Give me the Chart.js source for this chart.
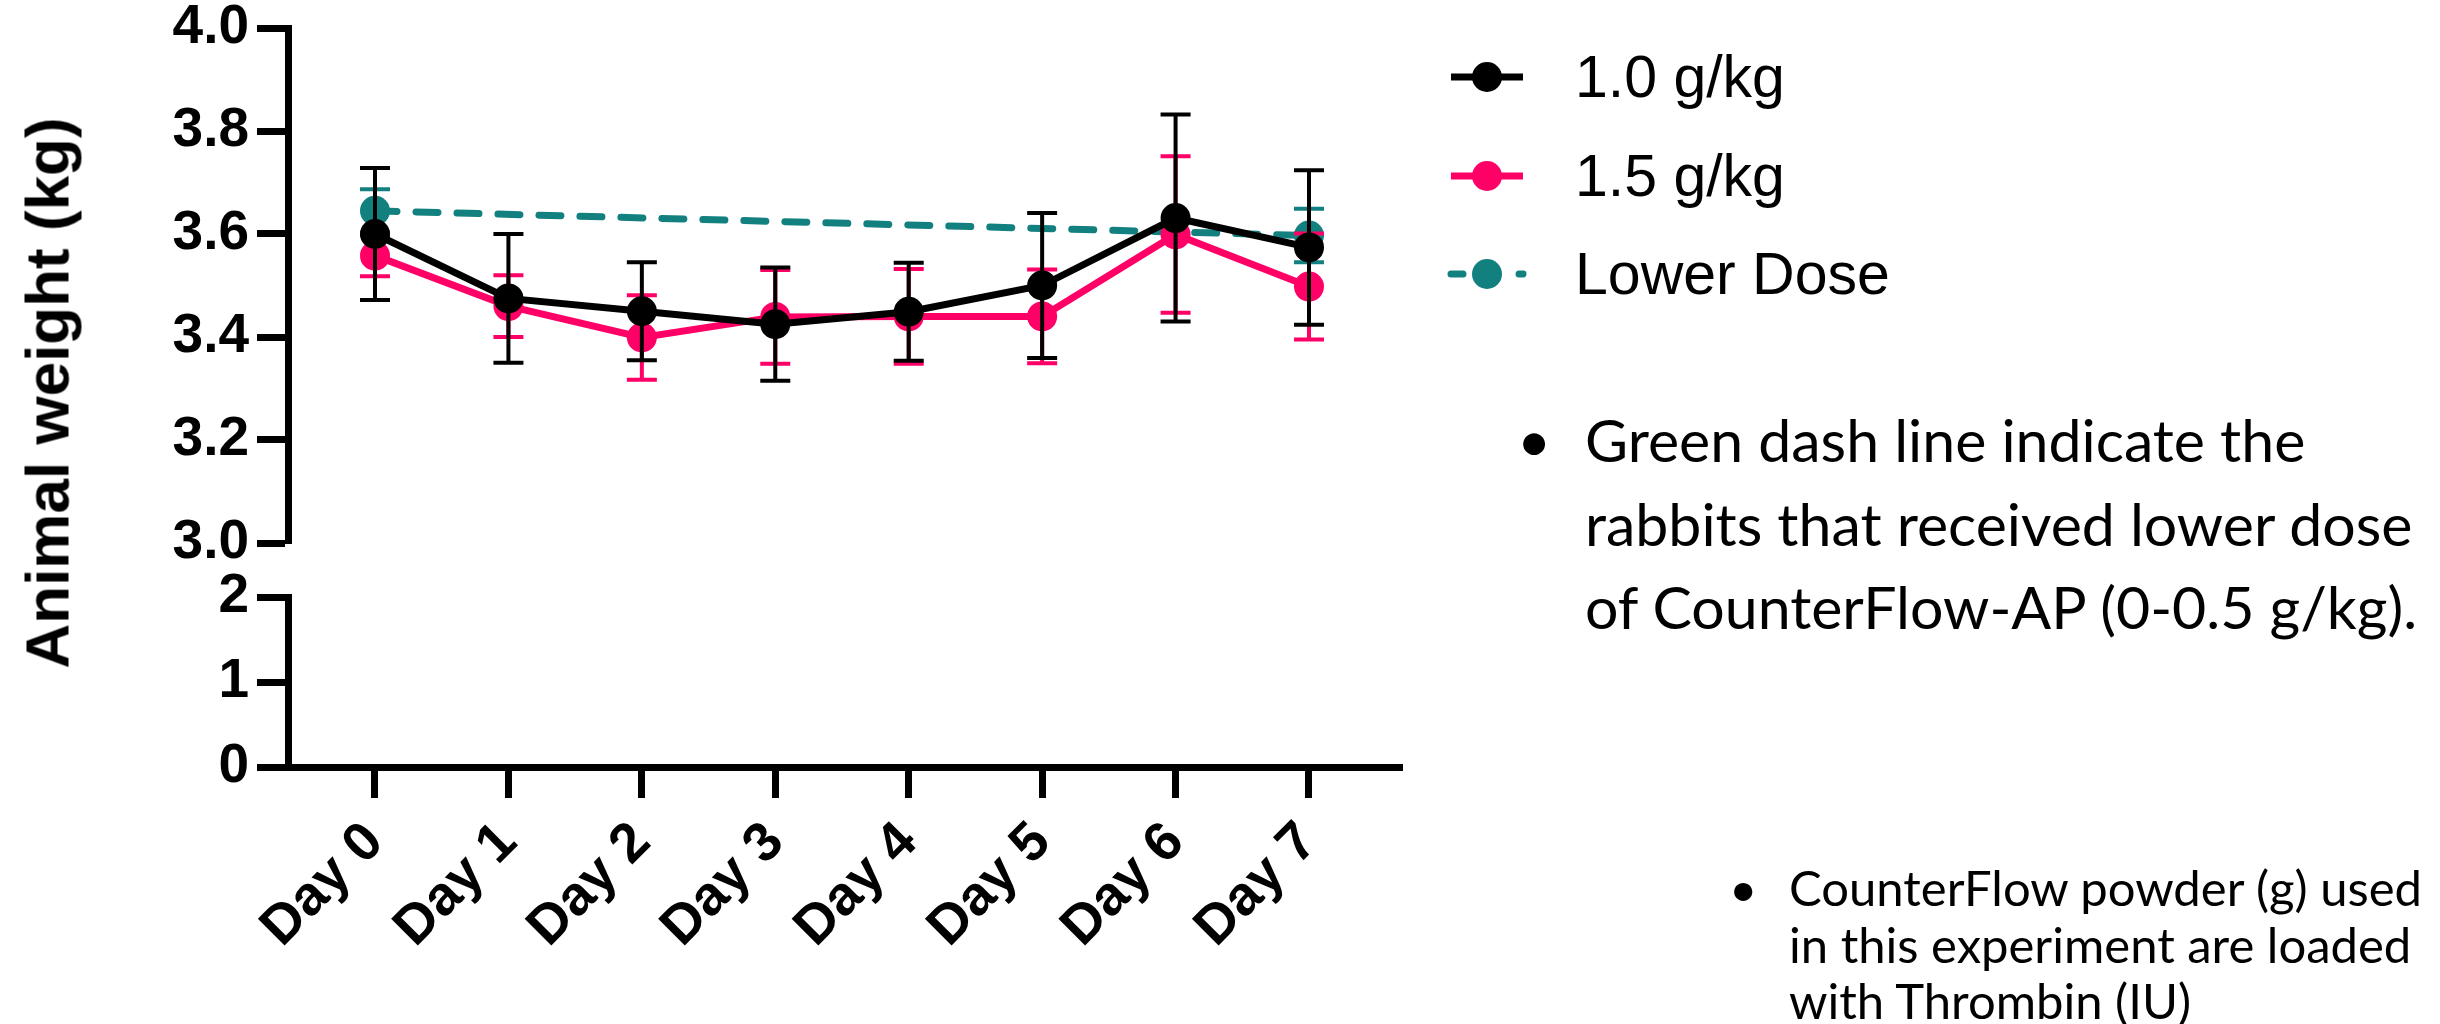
<!DOCTYPE html>
<html>
<head>
<meta charset="utf-8">
<script src="https://cdn.jsdelivr.net/npm/chart.js@4.4.1/dist/chart.umd.min.js"></script>
<style>
  body { margin: 0; background: #fff; }
  #wrap { position: relative; width: 2440px; height: 1024px; overflow: hidden; font-family: "Liberation Sans", Arial, sans-serif; color: #000; }
  #chart { position: absolute; left: 0; top: 0; }
  #ytitle { position: absolute; left: 47px; top: 393px; transform: translate(-50%, -50%) rotate(-90deg); font-weight: bold; font-size: 62px; white-space: nowrap; }
  .leg { position: absolute; left: 1447px; height: 60px; display: flex; align-items: center; font-size: 59px; white-space: nowrap; }
  .leg svg { margin-right: 48px; }
  .note { position: absolute; font-family: Lato, "Open Sans", sans-serif; white-space: nowrap; }
  .note .b { position: absolute; }
</style>
</head>
<body>
<div id="wrap">
  <canvas id="chart" width="1420" height="1024"></canvas>
  <div id="ytitle">Animal weight (kg)</div>
  <div id="legend"></div>
  <div class="note" style="left:1585px; top:398px; font-size:59px; line-height:83.5px;">
    <span class="b" style="left:-68px;">•</span>Green dash line indicate the<br>rabbits that received lower dose<br>of CounterFlow-AP (0-0.5 g/kg).
  </div>
  <div class="note" style="left:1789px; top:859px; font-size:49px; line-height:56.5px;">
    <span class="b" style="left:-60px;">•</span>CounterFlow powder (g) used<br>in this experiment are loaded<br>with Thrombin (IU)
  </div>
</div>
<script>
// categories
const days = ['Day 0', 'Day 1', 'Day 2', 'Day 3', 'Day 4', 'Day 5', 'Day 6', 'Day 7'];
const seriesNames = ['1.0 g/kg', '1.5 g/kg', 'Lower Dose'];

// tick labels of the two parts of the broken y axis
const upperTicks = [3.0, 3.2, 3.4, 3.6, 3.8, 4.0];
const lowerTicks = [0, 1, 2];

// mean weight (kg) and SD per day
const dose10 = [3.60, 3.475, 3.45, 3.425, 3.449, 3.50, 3.631, 3.574];
const dose10Sd = [0.128, 0.125, 0.095, 0.11, 0.095, 0.141, 0.201, 0.15];
const dose15 = [3.558, 3.46, 3.399, 3.439, 3.44, 3.44, 3.599, 3.498];
const dose15Sd = [0.04, 0.06, 0.082, 0.091, 0.092, 0.091, 0.152, 0.103];
const lowDose = [3.645, null, null, null, null, null, null, 3.597];
const lowDoseSd = [0.042, null, null, null, null, null, null, 0.052];

const colors = ['#000000', '#ff0066', '#138080'];

function pts(vals, sds) {
  return vals.map((v, i) => ({ x: i, y: v, sd: sds[i] })).filter(p => p.y !== null);
}

// draw error bars of each dataset just under its own line and points
const errorBars = {
  id: 'errorBars',
  beforeDatasetDraw(chart, args) {
    const ds = chart.data.datasets[args.index];
    const xs = args.meta.xScale, ys = args.meta.yScale;
    const ctx = chart.ctx;
    ctx.save();
    ctx.strokeStyle = ds.borderColor;
    ctx.lineWidth = 4;
    ds.data.forEach(p => {
      if (p.sd == null) return;
      const x = xs.getPixelForValue(p.x);
      const top = ys.getPixelForValue(p.y + p.sd);
      const bot = ys.getPixelForValue(p.y - p.sd);
      ctx.beginPath();
      ctx.moveTo(x, top); ctx.lineTo(x, bot);
      ctx.moveTo(x - 15, top); ctx.lineTo(x + 15, top);
      ctx.moveTo(x - 15, bot); ctx.lineTo(x + 15, bot);
      ctx.stroke();
    });
    ctx.restore();
  }
};

function noPad(s) { s.paddingTop = 0; s.paddingBottom = 0; s.paddingLeft = 0; s.paddingRight = 0; }

const tickFont = { family: 'Liberation Sans', size: 55, weight: 'bold', lineHeight: 1 };
const axisGrid = { drawOnChartArea: false, drawTicks: true, tickLength: 31, tickWidth: 7, color: '#000' };
const axisBorder = { display: true, width: 7, color: '#000' };

const chart = new Chart(document.getElementById('chart'), {
  type: 'line',
  data: {
    datasets: [
      { label: seriesNames[0], data: pts(dose10, dose10Sd), borderColor: colors[0], backgroundColor: colors[0],
        borderWidth: 7, pointRadius: 15, pointHoverRadius: 15, pointBorderWidth: 0, yAxisID: 'y' },
      { label: seriesNames[1], data: pts(dose15, dose15Sd), borderColor: colors[1], backgroundColor: colors[1],
        borderWidth: 7, pointRadius: 15, pointHoverRadius: 15, pointBorderWidth: 0, yAxisID: 'y' },
      { label: seriesNames[2], data: pts(lowDose, lowDoseSd), borderColor: colors[2], backgroundColor: colors[2],
        borderWidth: 7, borderDash: [22, 19], borderCapStyle: 'round',
        pointRadius: 15, pointHoverRadius: 15, pointBorderWidth: 0, yAxisID: 'y' }
    ]
  },
  options: {
    responsive: false,
    animation: false,
    events: [],
    layout: { padding: { top: 28, left: 0, right: 18, bottom: 0 } },
    plugins: { legend: { display: false }, tooltip: { enabled: false } },
    scales: {
      x: {
        type: 'linear', min: -0.652, max: 7.697,
        afterFit(s) { s.height = 257; noPad(s); },
        afterBuildTicks(s) { s.ticks = days.map((d, i) => ({ value: i })); },
        ticks: { autoSkip: false, minRotation: 45, maxRotation: 45,
                 padding: 16, color: '#000', font: tickFont, callback: v => days[v] },
        grid: axisGrid, border: axisBorder
      },
      y: {
        type: 'linear', position: 'left', stack: 'wt', stackWeight: 515, weight: 3,
        min: upperTicks[0], max: upperTicks[upperTicks.length - 1],
        afterFit(s) { s.width = 288; noPad(s); },
        afterBuildTicks(s) { s.ticks = upperTicks.map(v => ({ value: v })); },
        ticks: { autoSkip: false, padding: 8, color: '#000', font: tickFont, callback: v => v.toFixed(1) },
        grid: axisGrid, border: axisBorder
      },
      yGap: {
        type: 'linear', position: 'left', stack: 'wt', stackWeight: 54, weight: 2,
        display: false, min: 0, max: 1,
        afterFit(s) { noPad(s); }
      },
      yLow: {
        type: 'linear', position: 'left', stack: 'wt', stackWeight: 170, weight: 1,
        min: lowerTicks[0], max: lowerTicks[lowerTicks.length - 1],
        afterFit(s) { s.width = 288; noPad(s); },
        afterBuildTicks(s) { s.ticks = lowerTicks.map(v => ({ value: v })); },
        ticks: { autoSkip: false, padding: 8, color: '#000', font: tickFont, callback: v => v.toFixed(0) },
        grid: axisGrid, border: axisBorder
      }
    }
  },
  plugins: [errorBars]
});

// html legend built from the datasets
const legend = document.getElementById('legend');
chart.data.datasets.forEach((ds, i) => {
  const row = document.createElement('div');
  row.className = 'leg';
  row.style.top = (47 + i * 98.5) + 'px';
  const dash = ds.borderDash ? ' stroke-dasharray="12 22" stroke-linecap="round"' : '';
  row.innerHTML = '<svg width="80" height="34"><line x1="4" y1="17" x2="76" y2="17" stroke="' + ds.borderColor +
    '" stroke-width="7"' + dash + '/><circle cx="40" cy="17" r="15" fill="' + ds.backgroundColor + '"/></svg>' +
    '<span>' + ds.label + '</span>';
  legend.appendChild(row);
});
</script>
</body>
</html>
